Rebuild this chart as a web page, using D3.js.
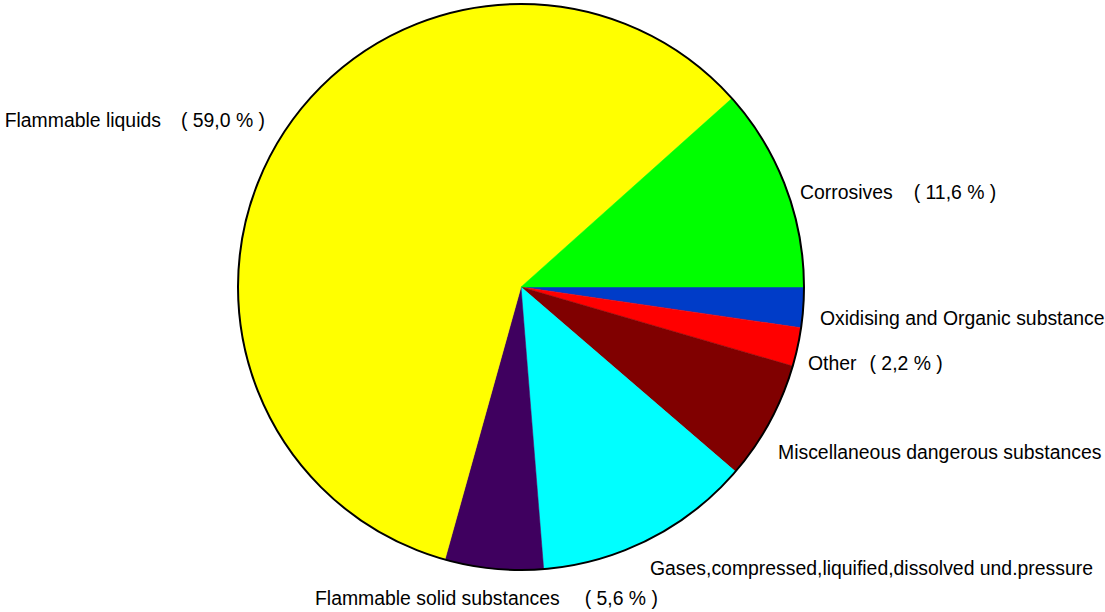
<!DOCTYPE html>
<html>
<head>
<meta charset="utf-8">
<script src="https://cdn.jsdelivr.net/npm/d3@7"></script>
<style>
  body { margin: 0; background: #fff; overflow: hidden; }
  svg { display: block; }
  text { font-family: "Liberation Sans", Arial, sans-serif; font-size: 19.4px; fill: #000; white-space: pre; }
</style>
</head>
<body>
<script>
// categories, clockwise starting at 3 o'clock
var categories = [
    "Oxidising and Organic substances",
    "Other",
    "Miscellaneous dangerous substances",
    "Gases,compressed,liquified,dissolved und.pressure",
    "Flammable solid substances",
    "Flammable liquids",
    "Corrosives"
];
var shares = [2.3, 2.2, 6.8, 12.4, 5.6, 59.0, 11.6];
var colours = ["#003cc8", "#ff0000", "#800000", "#00ffff", "#3f005f", "#ffff00", "#00ff00"];

// label layout: x, baseline y, anchor, gap before the percentage
var labelPos = [
    [820, 325, "start", 16],
    [808, 370, "start", 13],
    [778, 459, "start", 16],
    [650, 575, "start", 16],
    [315, 605, "start", 25],
    [265, 127, "end", 20],
    [800, 199, "start", 21]
];

var width = 1105, height = 612;
var cx = 521, cy = 287, r = 283;

var svg = d3.select("body").append("svg")
    .attr("width", width)
    .attr("height", height);

var pie = d3.pie()
    .sort(null)
    .value(function(d) { return d; })
    .startAngle(Math.PI / 2)
    .endAngle(Math.PI / 2 + 2 * Math.PI);

var arc = d3.arc().innerRadius(0).outerRadius(r);

var g = svg.append("g").attr("transform", "translate(" + cx + "," + cy + ")");

g.selectAll("path.slice")
    .data(pie(shares))
    .enter()
    .append("path")
    .attr("class", "slice")
    .attr("d", arc)
    .attr("fill", function(d, i) { return colours[i]; })
    .attr("stroke", function(d, i) { return colours[i]; })
    .attr("stroke-width", 0.5);

g.append("circle")
    .attr("r", r)
    .attr("fill", "none")
    .attr("stroke", "#000")
    .attr("stroke-width", 2);

function pct(v) {
    return "( " + v.toFixed(1).replace(".", ",") + " % )";
}

var labels = svg.selectAll("text.lab")
    .data(categories)
    .enter()
    .append("text")
    .attr("class", "lab")
    .attr("x", function(d, i) { return labelPos[i][0]; })
    .attr("y", function(d, i) { return labelPos[i][1]; })
    .attr("text-anchor", function(d, i) { return labelPos[i][2]; });

labels.append("tspan").text(function(d) { return d; });
labels.append("tspan")
    .attr("dx", function(d, i) { return labelPos[i][3]; })
    .text(function(d, i) { return pct(shares[i]); });
</script>
</body>
</html>
